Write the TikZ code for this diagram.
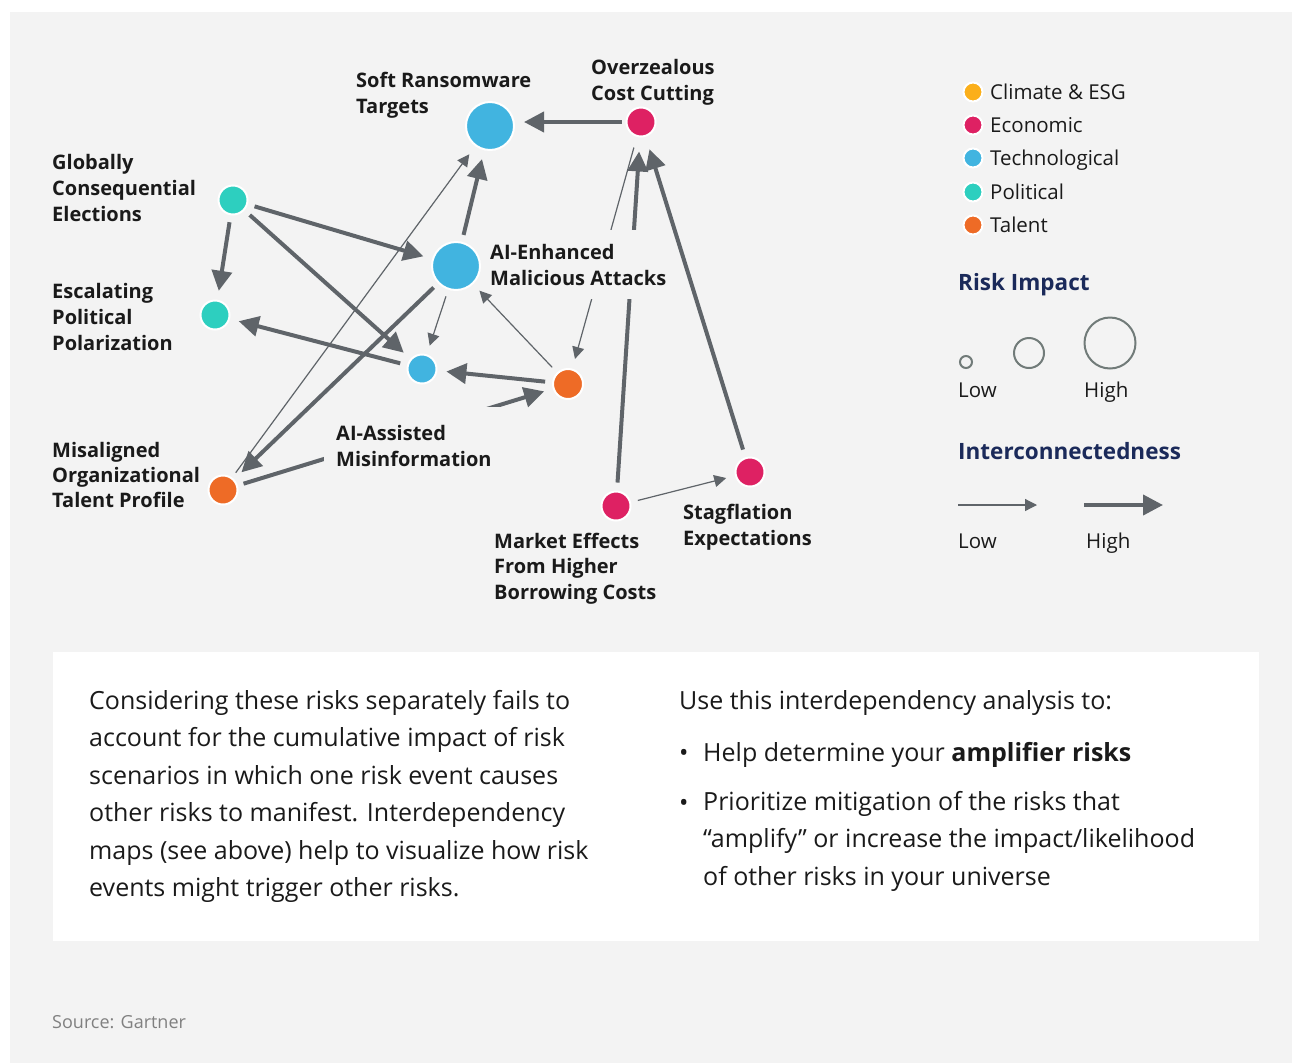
\documentclass[tikz,border=0pt]{standalone}
\usepackage{fontspec}
\setmainfont{Open Sans}
\usetikzlibrary{arrows.meta}
\definecolor{bg}{HTML}{F3F3F3}
\definecolor{edgec}{HTML}{5F6469}
\definecolor{cblue}{HTML}{41B4E0}
\definecolor{cmag}{HTML}{DE2163}
\definecolor{cteal}{HTML}{2DCFBF}
\definecolor{corange}{HTML}{EE6B26}
\definecolor{cyellow}{HTML}{FBAF1A}
\definecolor{navy}{HTML}{1B2A5A}
\definecolor{ringc}{HTML}{717B79}
\definecolor{txt}{HTML}{1A1A1A}
\begin{document}
\begin{tikzpicture}[x=1pt,y=-1pt,
  risk/.style={circle, draw=white, line width=2pt, inner sep=0pt, minimum size=#1},
  lbl/.style={font=\bfseries\fontsize{20}{26}\selectfont, align=left, anchor=base west, inner sep=0pt, text=txt},
  bigarrow/.style={draw=edgec, line width=4pt, -{Triangle[length=20pt,width=20pt]}, shorten <=7pt, shorten >=9pt},
  smallarrow/.style={draw=edgec, line width=1.2pt, -{Triangle[length=12pt,width=12pt]}, shorten <=7pt, shorten >=9pt},
  legtext/.style={font=\fontsize{20.5}{24}\selectfont, anchor=base west, inner sep=0pt, text=txt},
  leghead/.style={font=\bfseries\fontsize{22.5}{26}\selectfont, anchor=base west, inner sep=0pt, text=navy},
  legdot/.style={circle, draw=white, line width=2pt, fill=#1, inner sep=0pt, minimum size=19pt},
  ringnode/.style={circle, draw=ringc, line width=2pt, inner sep=0pt, minimum size=#1},
  body/.style={font=\fontsize{25}{37.5}\selectfont, anchor=base west, inner sep=0pt, align=left, text=txt},
]
\useasboundingbox (0,0) rectangle (1292,1063);
\fill[white] (0,0) rectangle (1292,1063);
\fill[bg] (10,12) rectangle (1292,1063);
\fill[white] (53,652) rectangle (1259,941);

% risk nodes
\node[risk=48pt, fill=cblue] (srt) at (490,126) {};
\node[risk=29pt, fill=cmag] (occ) at (641,122) {};
\node[risk=29pt, fill=cteal] (gce) at (233,200) {};
\node[risk=48pt, fill=cblue] (aie) at (456,266) {};
\node[risk=29pt, fill=cteal] (epp) at (215,315) {};
\node[risk=29pt, fill=cblue] (aim) at (422,369) {};
\node[risk=30pt, fill=corange] (tal) at (568,384) {};
\node[risk=29pt, fill=corange] (mot) at (223,490) {};
\node[risk=29pt, fill=cmag] (mkt) at (616,506) {};
\node[risk=29pt, fill=cmag] (stg) at (750,472) {};

% connectors that pass behind labels
\draw[smallarrow, shorten <=11pt, shorten >=10pt] (occ) -- (tal);
\draw[bigarrow, shorten <=8pt, shorten >=14pt] (mkt) -- (occ);
\draw[bigarrow, shorten <=6pt, shorten >=9pt] (mot) -- (tal);

% labels (anchored at the baseline of their last line)
\node[lbl] (lsrt) at (356,113) {Soft Ransomware\\Targets};
\node[lbl] (locc) at (591,100) {Overzealous\\Cost Cutting};
\node[lbl] (lgce) at (52,221) {Globally\\Consequential\\Elections};
\node[lbl, fill=bg, inner xsep=4pt, inner ysep=14pt] (laie) at (486,285) {AI-Enhanced\\Malicious Attacks};
\node[lbl] (lepp) at (52,350) {Escalating\\Political\\Polarization};
\node[lbl, fill=bg, inner xsep=12pt, inner ysep=18pt] (laim) at (324,466) {AI-Assisted\\Misinformation};
\node[lbl, font=\bfseries\fontsize{20}{25}\selectfont] (lmot) at (52,507) {Misaligned\\Organizational\\Talent Profile};
\node[lbl] (lstg) at (683,545) {Stagflation\\Expectations};
\node[lbl, font=\bfseries\fontsize{20}{25.5}\selectfont] (lmkt) at (494,599) {Market Effects\\From Higher\\Borrowing Costs};

% other connectors
\draw[bigarrow, shorten <=4pt, shorten >=34pt] (occ) -- (srt.center |- occ);
\draw[bigarrow, shorten <=8pt, shorten >=13pt] (stg) -- (occ);
\draw[bigarrow] (aie) -- (srt);
\draw[smallarrow, shorten <=6pt, shorten >=10pt] (mot) -- (srt);
\draw[bigarrow, shorten <=6pt, shorten >=10pt] (aie) -- (mot);
\draw[bigarrow] (gce) -- (aie);
\draw[bigarrow] (gce) -- (aim);
\draw[bigarrow] (gce) -- (epp);
\draw[smallarrow] (aie) -- (aim);
\draw[smallarrow] (tal) -- (aie);
\draw[bigarrow] (aim) -- (epp);
\draw[bigarrow] (tal) -- (aim);
\draw[smallarrow] (mkt) -- (stg);

% legend: categories
\node[legdot=cyellow] (d1) at (973,92) {};
\node[legdot=cmag] (d2) at (973,125) {};
\node[legdot=cblue] (d3) at (973,158) {};
\node[legdot=cteal] (d4) at (973,192) {};
\node[legdot=corange] (d5) at (973,225) {};
\node[legtext] (t1) at (990,99) {Climate \& ESG};
\node[legtext] (t2) at (990,132) {Economic};
\node[legtext] (t3) at (990,165) {Technological};
\node[legtext] (t4) at (990,199) {Political};
\node[legtext] (t5) at (990,232) {Talent};

% legend: risk impact
\node[leghead] (hri) at (958,290) {Risk Impact};
\node[ringnode=12pt] (r1) at (966,362) {};
\node[ringnode=30pt] (r2) at (1029,353) {};
\node[ringnode=51pt] (r3) at (1110,343) {};
\node[legtext] (rlo) at (958,397) {Low};
\node[legtext] (rhi) at (1084,397) {High};

% legend: interconnectedness
\node[leghead] (hic) at (958,459) {Interconnectedness};
\coordinate (a1) at (958,505);
\coordinate (a2) at (1037,505);
\coordinate (b1) at (1084,505);
\coordinate (b2) at (1163,505);
\draw[smallarrow, shorten <=0pt, shorten >=0pt] (a1) -- (a2);
\draw[bigarrow, shorten <=0pt, shorten >=0pt] (b1) -- (b2);
\node[legtext] (alo) at (958,548) {Low};
\node[legtext] (ahi) at (1086,548) {High};

% text box
\node[body] (left) at (89,896.5) {Considering these risks separately fails to\\account for the cumulative impact of risk\\scenarios in which one risk event causes\\other risks to manifest. Interdependency\\maps (see above) help to visualize how risk\\events might trigger other risks.};
\node[body] (right) at (679,709) {Use this interdependency analysis to:};
\node[body] (bul1) at (679,761) {\textbullet};
\node[body] (bul2) at (679,811) {\textbullet};
\node[body] (item1) at (703,761) {Help determine your \textbf{amplifier risks}};
\node[body] (item2) at (703,885) {Prioritize mitigation of the risks that\\“amplify” or increase the impact/likelihood\\of other risks in your universe};

\node[font=\fontsize{18}{22}\selectfont, anchor=base west, inner sep=0pt, text=gray] (src) at (52,1028) {Source: Gartner};
\end{tikzpicture}
\end{document}
